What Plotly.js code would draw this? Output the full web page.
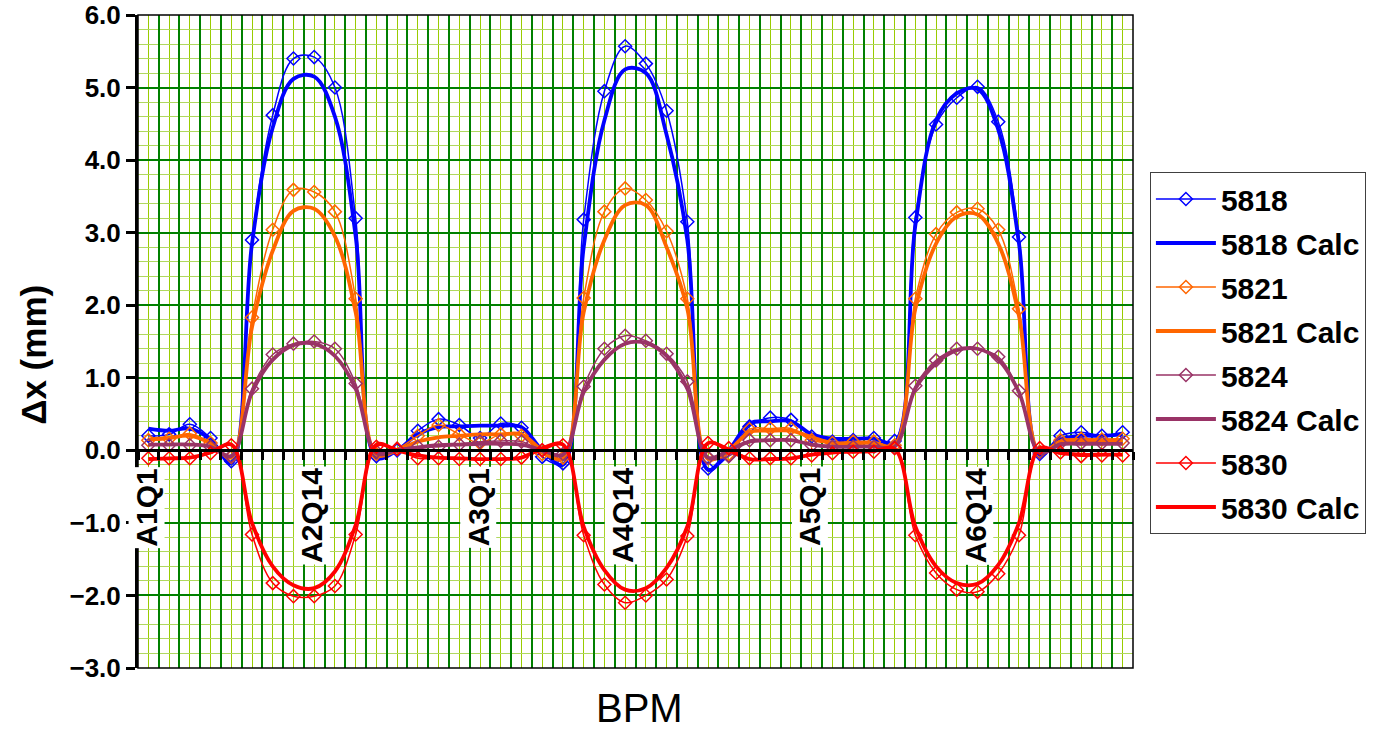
<!DOCTYPE html>
<html>
<head>
<meta charset="utf-8">
<script src="https://cdn.plot.ly/plotly-3.0.1.min.js"></script>
<style>html,body{margin:0;padding:0;background:#fff;}#chart{width:1379px;height:729px;}</style>
</head>
<body>
<div id="chart"></div>
<script>
// BPM index 0..47 (categories)
const bpmIndex = Array.from({length: 48}, (_, i) => i);

// Labelled BPMs (category index -> name)
const labelNames = ['A1Q1', 'A2Q14', 'A3Q1', 'A4Q14', 'A5Q1', 'A6Q14'];
const labelIdx = [0, 8, 16, 23, 32, 40];

const s5818 = [0.2,0.22,0.36,0.17,-0.15, 2.9,4.62,5.4,5.42,5.0,3.2, -0.08,0.0,0.27,0.43,0.35,0.17,0.37,0.31,-0.09,-0.18,
  3.18,4.95,5.57,5.33,4.68,3.15, -0.25,-0.07,0.33,0.45,0.42,0.19,0.12,0.14,0.17,0.13,
  3.21,4.49,4.86,5.01,4.53,2.94, -0.05,0.2,0.25,0.2,0.25];
const c5818 = [0.3,0.27,0.3,0.15,-0.18, 2.85,4.45,5.12,5.15,4.6,2.95, -0.1,0.0,0.22,0.32,0.33,0.34,0.34,0.32,0.0,-0.2,
  2.8,4.55,5.25,5.2,4.35,2.9, -0.27,0.0,0.37,0.4,0.4,0.22,0.16,0.16,0.16,0.1,
  3.1,4.55,4.92,4.98,4.42,2.85, -0.06,0.15,0.2,0.2,0.22];
const s5821 = [0.14,0.16,0.23,0.1,-0.09, 1.83,3.04,3.59,3.56,3.29,2.09, -0.05,0.02,0.2,0.35,0.22,0.1,0.22,0.2,-0.05,-0.1,
  2.1,3.29,3.61,3.45,3.02,2.09, -0.11,-0.05,0.29,0.3,0.3,0.14,0.1,0.12,0.12,0.07,
  2.09,2.98,3.28,3.33,3.04,1.95, -0.02,0.14,0.16,0.15,0.16];
const c5821 = [0.15,0.17,0.2,0.1,-0.1, 1.7,2.75,3.3,3.33,2.95,1.9, -0.06,0.0,0.12,0.18,0.2,0.22,0.22,0.22,0.0,-0.12,
  1.9,2.9,3.38,3.38,2.8,1.95, -0.12,0.0,0.25,0.27,0.27,0.18,0.1,0.1,0.1,0.07,
  1.95,2.85,3.22,3.25,2.85,1.85, -0.03,0.12,0.14,0.14,0.14];
const s5824 = [0.07,0.07,0.07,0.05,-0.08, 0.85,1.32,1.47,1.5,1.4,0.92, -0.02,0.02,0.05,0.05,0.08,0.12,0.13,0.12,0.0,-0.05,
  0.88,1.4,1.58,1.51,1.33,0.95, -0.1,-0.08,0.14,0.14,0.14,0.07,0.05,0.05,0.05,0.04,
  0.89,1.24,1.4,1.4,1.29,0.82, -0.03,0.1,0.1,0.1,0.1];
const c5824 = [0.08,0.08,0.08,0.05,-0.08, 0.8,1.25,1.45,1.47,1.3,0.85, -0.04,0.0,0.04,0.07,0.08,0.09,0.09,0.08,0.0,-0.06,
  0.8,1.25,1.47,1.48,1.3,0.85, -0.1,0.0,0.12,0.14,0.14,0.08,0.05,0.05,0.05,0.05,
  0.85,1.2,1.38,1.4,1.25,0.8, -0.03,0.08,0.09,0.09,0.09];
const s5830 = [-0.11,-0.11,-0.11,-0.04,0.07, -1.16,-1.83,-2.01,-2.01,-1.87,-1.16, 0.05,0.02,-0.11,-0.11,-0.12,-0.12,-0.12,-0.1,0.0,0.07,
  -1.17,-1.85,-2.1,-2.0,-1.78,-1.18, 0.1,0.03,-0.11,-0.11,-0.11,-0.07,-0.04,-0.02,-0.02,0.03,
  -1.17,-1.69,-1.92,-1.95,-1.7,-1.17, 0.03,-0.03,-0.08,-0.07,-0.07];
const c5830 = [-0.12,-0.11,-0.1,-0.03,0.08, -1.0,-1.6,-1.86,-1.9,-1.67,-1.03, 0.08,0.0,-0.07,-0.1,-0.11,-0.12,-0.12,-0.1,0.03,0.08,
  -1.05,-1.65,-1.92,-1.9,-1.62,-1.05, 0.1,0.0,-0.12,-0.12,-0.11,-0.06,-0.03,-0.02,-0.01,0.02,
  -1.05,-1.6,-1.83,-1.84,-1.58,-1.0, 0.03,-0.04,-0.06,-0.06,-0.06];

const seriesNames = ['5818','5818 Calc','5821','5821 Calc','5824','5824 Calc','5830','5830 Calc'];
const seriesData = [s5818, c5818, s5821, c5821, s5824, c5824, s5830, c5830];
const seriesColors = ['#0000FF','#0000FF','#FF6600','#FF6600','#993366','#993366','#FF0000','#FF0000'];

const FONT = 'Liberation Sans, Arial, sans-serif';

const traces = seriesNames.map((name, k) => {
  const calc = name.indexOf('Calc') >= 0;
  const t = {
    type: 'scatter',
    x: bpmIndex,
    y: seriesData[k],
    name: name,
    mode: calc ? 'lines' : 'lines+markers',
    line: {color: seriesColors[k], width: calc ? 3.8 : 1.5, shape: 'spline', smoothing: 1},
    legendgroup: 'g' + k
  };
  if (!calc) {
    t.marker = {symbol: 'diamond-open', size: 10, color: seriesColors[k], line: {width: 1.5, color: seriesColors[k]}};
  }
  return t;
});

const annotations = labelNames.map((t, j) => ({
  x: labelIdx[j], y: -0.22, xref: 'x', yref: 'y', xshift: -2,
  text: t, textangle: -90, showarrow: false,
  xanchor: 'center', yanchor: 'top',
  bgcolor: '#FFFFFF', borderpad: 1,
  font: {family: FONT, size: 30, color: '#000', weight: 'bold'}
}));
annotations.push({
  x: 0.5045, y: -0.061, xref: 'paper', yref: 'paper', text: 'BPM', showarrow: false,
  xanchor: 'center', yanchor: 'middle',
  font: {family: FONT, size: 40, color: '#000'}
});
annotations.push({
  x: -0.105, y: 0.479, xref: 'paper', yref: 'paper', text: '\u0394x (mm)', showarrow: false,
  textangle: -90, xanchor: 'center', yanchor: 'middle',
  font: {family: FONT, size: 35, color: '#000', weight: 'bold'}
});

const layout = {
  width: 1379, height: 729,
  margin: {l: 138, r: 246, t: 15, b: 61},
  paper_bgcolor: '#FFFFFF', plot_bgcolor: '#FFFFFF',
  showlegend: true,
  legend: {
    x: 1.017, y: 0.7596, xanchor: 'left', yanchor: 'top',
    bgcolor: '#FFFFFF', bordercolor: '#404040', borderwidth: 1,
    font: {family: FONT, size: 30, color: '#000', weight: 'bold'},
    traceorder: 'grouped', tracegroupgap: 2, itemwidth: 60
  },
  xaxis: {
    range: [-0.5, 47.5], anchor: 'free', position: 1/3,
    tick0: 0.5, dtick: 1, showticklabels: false,
    ticks: 'outside', ticklen: 8, tickwidth: 3, tickcolor: '#000',
    showline: true, linecolor: '#000', linewidth: 3,
    showgrid: true, gridcolor: '#008000', gridwidth: 2,
    minor: {tick0: 0, dtick: 1, showgrid: true, gridcolor: '#99CC00', gridwidth: 1, ticks: ''},
    zeroline: false, fixedrange: true
  },
  yaxis: {
    range: [-3, 6], dtick: 1, tickformat: '.1f',
    ticks: 'outside', ticklen: 9, tickwidth: 3, tickcolor: '#000',
    showline: true, linecolor: '#000', linewidth: 3,
    showgrid: true, gridcolor: '#008000', gridwidth: 2,
    minor: {dtick: 0.2, showgrid: true, gridcolor: '#B0D860', gridwidth: 1, ticks: ''},
    zeroline: false,
    tickfont: {family: FONT, size: 26, color: '#000', weight: 'bold'},
    fixedrange: true
  },
  shapes: [{type: 'rect', xref: 'paper', yref: 'paper', x0: 0, x1: 1, y0: 0, y1: 1,
    line: {color: '#000', width: 1.5}, layer: 'above'}],
  annotations: annotations
};

Plotly.newPlot('chart', traces, layout, {displayModeBar: false, staticPlot: true});
</script>
</body>
</html>
